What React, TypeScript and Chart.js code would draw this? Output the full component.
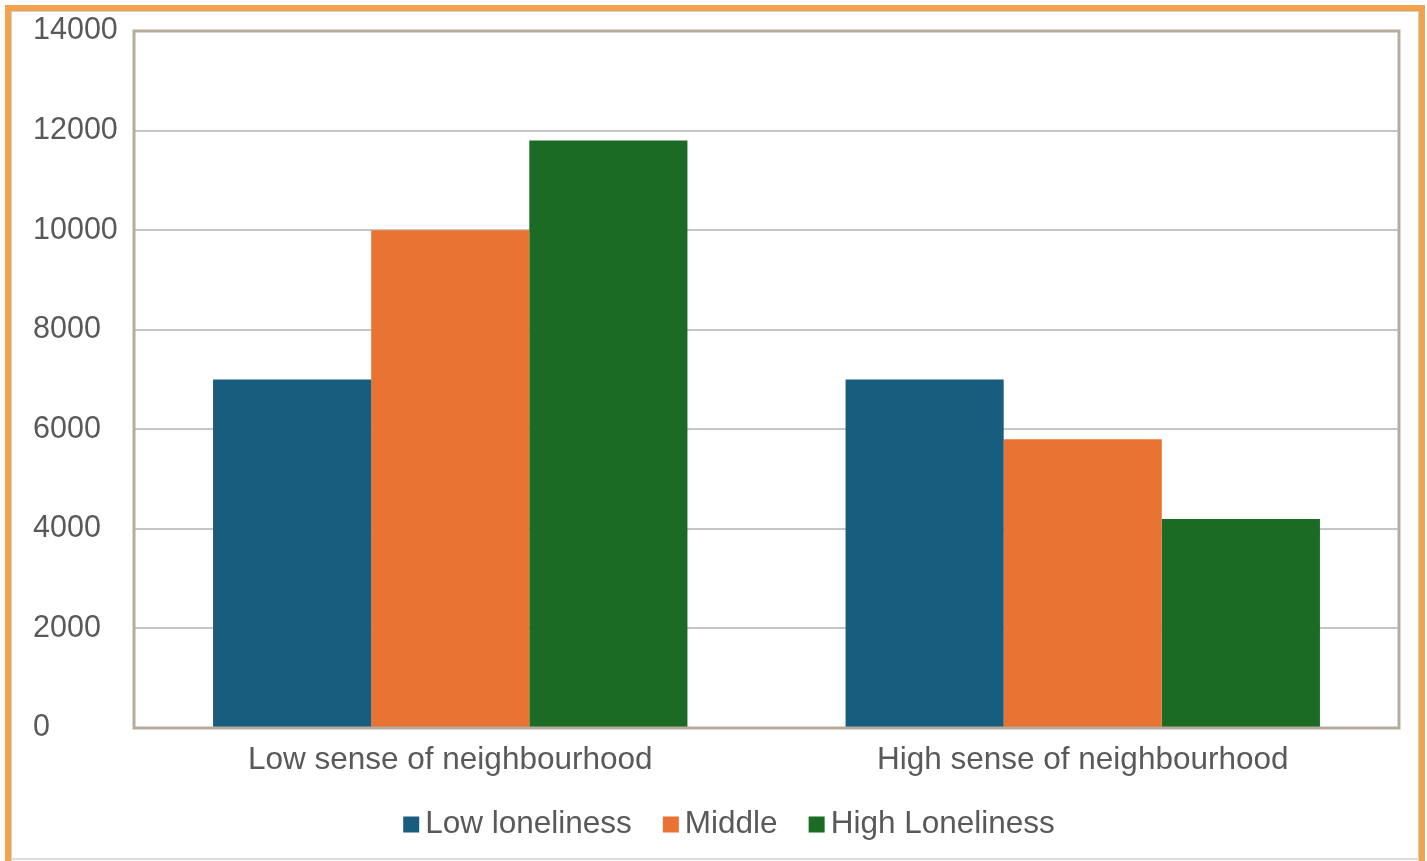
import React, { useEffect, useRef } from "react";
import { Chart, registerables } from "chart.js";

Chart.register(...registerables);

const categories = ["Low sense of neighbourhood", "High sense of neighbourhood"];
const seriesNames = ["Low loneliness", "Middle", "High Loneliness"];
const lowLoneliness = [7000, 7000];
const middle = [10000, 5800];
const highLoneliness = [11800, 4200];
const yTicks = [0, 2000, 4000, 6000, 8000, 10000, 12000, 14000];

const COLORS = ["#185d7e", "#e97333", "#1b6b24"];
const TEXT = "#595959";
const FONT = "'Liberation Sans', Arial, sans-serif";

// Frame around the plotting area, drawn over the grid.
const plotFrame = {
  id: "plotFrame",
  afterDraw(chart: any) {
    const { ctx, chartArea } = chart;
    ctx.save();
    ctx.strokeStyle = "#b6ab9d";
    ctx.lineWidth = 3;
    ctx.strokeRect(
      chartArea.left,
      chartArea.top,
      chartArea.right - chartArea.left,
      chartArea.bottom - chartArea.top
    );
    ctx.restore();
  },
};

// Compact legend row below the category labels.
const bottomLegend = {
  id: "bottomLegend",
  afterDraw(chart: any) {
    const { ctx } = chart;
    const boxW = 16;
    const boxH = 16;
    const gap = 6;
    const spacing = 31;
    const baseline = 833;
    ctx.save();
    ctx.font = `31.5px ${FONT}`;
    const items = chart.data.datasets.map((ds: any) => ({
      label: ds.label,
      color: ds.backgroundColor,
      w: ctx.measureText(ds.label).width,
    }));
    const total =
      items.reduce((s: number, it: any) => s + boxW + gap + it.w, 0) +
      spacing * (items.length - 1);
    let x = 729 - total / 2;
    items.forEach((it: any) => {
      ctx.fillStyle = it.color;
      ctx.fillRect(x, baseline - boxH - 0.5, boxW, boxH);
      x += boxW + gap;
      ctx.fillStyle = TEXT;
      ctx.textBaseline = "alphabetic";
      ctx.textAlign = "left";
      ctx.fillText(it.label, x, baseline);
      x += it.w + spacing;
    });
    ctx.restore();
  },
};

export default function App() {
  const canvasRef = useRef<HTMLCanvasElement | null>(null);

  useEffect(() => {
    if (!canvasRef.current) return;
    const values = [lowLoneliness, middle, highLoneliness];
    const chart = new Chart(canvasRef.current, {
      type: "bar",
      data: {
        labels: categories,
        datasets: seriesNames.map((name, i) => ({
          label: name,
          data: values[i],
          backgroundColor: COLORS[i],
          borderWidth: 0,
          categoryPercentage: 0.75,
          barPercentage: 1,
        })),
      },
      options: {
        responsive: false,
        animation: false,
        devicePixelRatio: 1,
        layout: { padding: { left: 33, top: 31, right: 28, bottom: 0 } },
        plugins: {
          legend: { display: false },
          tooltip: { enabled: false },
        },
        scales: {
          x: {
            grid: { display: false, drawTicks: false },
            border: { display: false },
            ticks: {
              color: TEXT,
              font: { family: FONT, size: 31.5 },
              padding: 13,
              maxRotation: 0,
            },
            afterFit(scale: any) {
              scale.height = 133;
            },
          },
          y: {
            min: 0,
            max: yTicks[yTicks.length - 1],
            grid: {
              color: "#c6c6c6",
              lineWidth: 2,
              drawTicks: true,
              tickLength: 16,
              tickColor: "rgba(0,0,0,0)",
            },
            border: { display: false },
            afterBuildTicks(scale: any) {
              scale.ticks = yTicks.map((v) => ({ value: v }));
            },
            ticks: {
              color: TEXT,
              font: { family: FONT, size: 30.5 },
              padding: 0,
              crossAlign: "far",
              callback: (v: any) => String(v),
            },
            afterFit(scale: any) {
              scale.width = 101;
            },
          },
        },
      },
      plugins: [plotFrame, bottomLegend],
    });
    return () => chart.destroy();
  }, []);

  return (
    <div
      style={{
        position: "fixed",
        left: 0,
        top: 0,
        width: 1427,
        height: 861,
        background: "#ffffff",
        overflow: "hidden",
      }}
    >
      <div
        style={{
          position: "absolute",
          left: 5,
          top: 5,
          width: 1420,
          height: 860,
          boxSizing: "border-box",
          borderTop: "6px solid #f2a24c",
          borderLeft: "6px solid #f2a24c",
          borderRight: "6px solid #f2a24c",
        }}
      >
        <div
          style={{
            position: "absolute",
            inset: 0,
            borderTop: "1px solid #cfcfcf",
            borderLeft: "1px solid #cfcfcf",
            borderRight: "1px solid #cfcfcf",
          }}
        />
      </div>
      <div
        style={{
          position: "absolute",
          left: 11,
          top: 858,
          width: 1408,
          height: 2,
          background: "#dcdcdc",
        }}
      />
      <canvas
        ref={canvasRef}
        width={1427}
        height={861}
        style={{ position: "absolute", left: 0, top: 0 }}
      />
    </div>
  );
}
